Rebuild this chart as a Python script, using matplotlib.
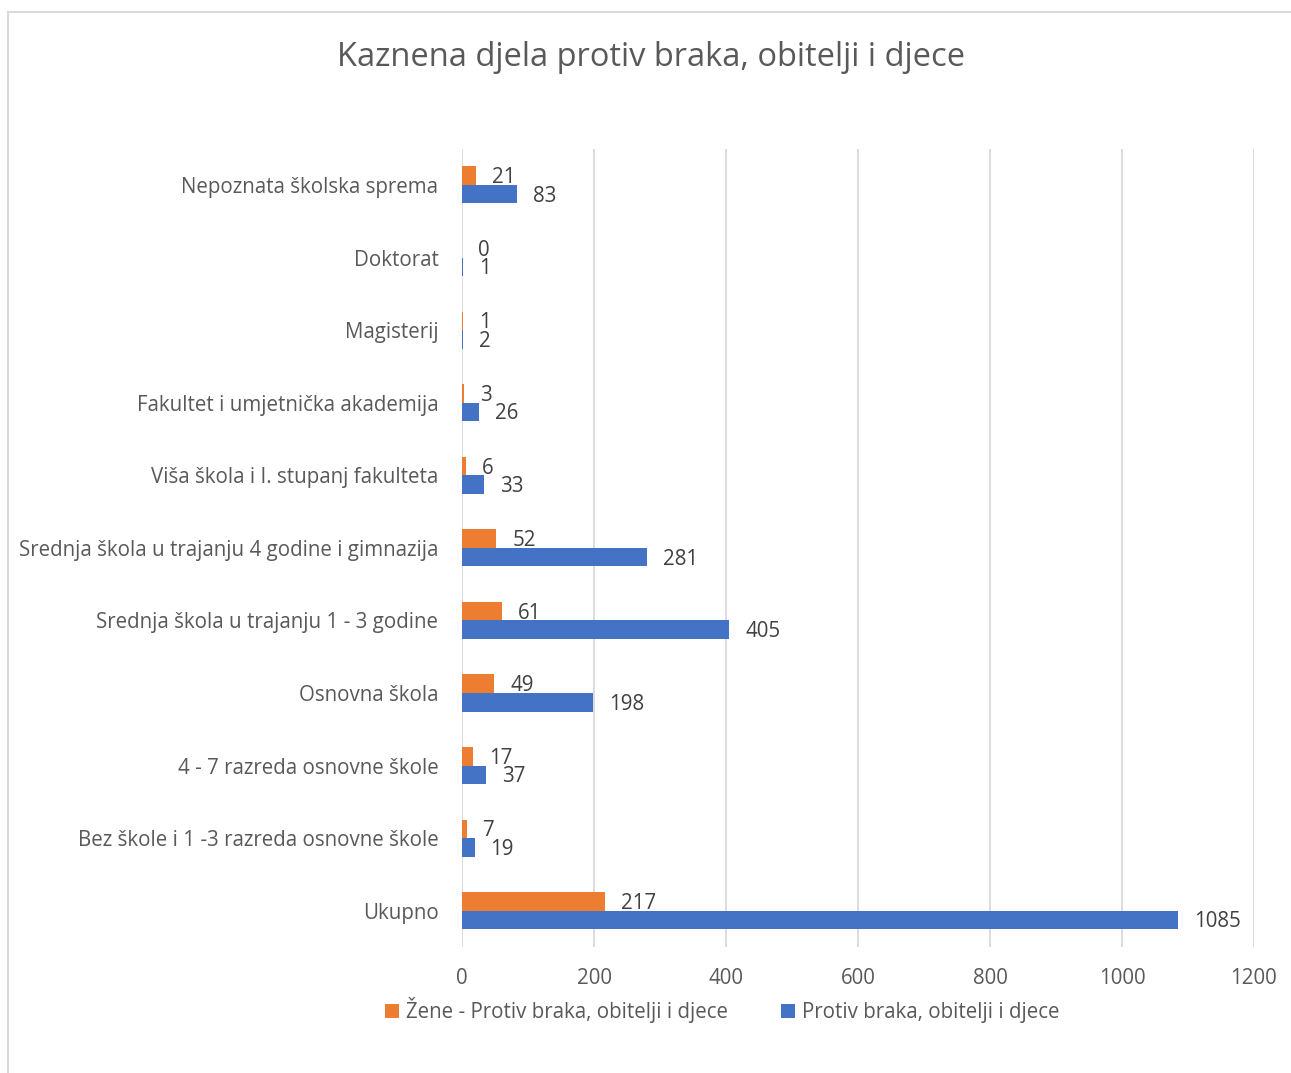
import matplotlib.pyplot as plt
from matplotlib.patches import Rectangle
import numpy as np

plt.rcParams['font.family'] = ['Open Sans', 'DejaVu Sans']

# categories from bottom to top, as in the chart
categories = [
    "Ukupno",
    "Bez škole i 1 -3 razreda osnovne škole",
    "4 - 7 razreda osnovne škole",
    "Osnovna škola",
    "Srednja škola u trajanju 1 - 3 godine",
    "Srednja škola u trajanju 4 godine i gimnazija",
    "Viša škola i I. stupanj fakulteta",
    "Fakultet i umjetnička akademija",
    "Magisterij",
    "Doktorat",
    "Nepoznata školska sprema",
]
zene = [217, 7, 17, 49, 61, 52, 6, 3, 1, 0, 21]
ukupno = [1085, 19, 37, 198, 405, 281, 33, 26, 2, 1, 83]

ORANGE = "#ed7d31"
BLUE = "#4472c4"
TXT = "#595959"
LBL = "#404040"
GRID = "#d9d9d9"
FS = 14.8

fig = plt.figure(figsize=(12.91, 10.73), dpi=100)
ax = fig.add_axes([462 / 1291, 1 - 947 / 1073, 792 / 1291, (947 - 148.7) / 1073])

y = np.arange(len(categories))
h = 0.255
b1 = ax.barh(y + h / 2, zene, height=h, color=ORANGE, label="Žene - Protiv braka, obitelji i djece")
b2 = ax.barh(y - h / 2, ukupno, height=h, color=BLUE, label="Protiv braka, obitelji i djece")

for bars, vals in ((b1, zene), (b2, ukupno)):
    for bar, v in zip(bars, vals):
        ax.annotate(str(v), (v, bar.get_y() + bar.get_height() / 2),
                    xytext=(16, -2), textcoords="offset pixels",
                    ha="left", va="center", fontsize=FS, color=LBL)

ax.set_xlim(0, 1200)
ax.set_ylim(-0.5, len(categories) - 0.5)
ax.set_xticks(range(0, 1201, 200))
ax.set_yticks(y)
ax.set_yticklabels(categories)
ax.tick_params(axis="y", length=0, pad=17, labelsize=FS, labelcolor=TXT)
ax.tick_params(axis="x", length=0, pad=15, labelsize=FS, labelcolor=TXT)
ax.grid(axis="x", color=GRID, lw=1.3)
ax.set_axisbelow(True)
for s in ax.spines.values():
    s.set_visible(False)

fig.text(651 / 1291, 1 - 58 / 1073, "Kaznena djela protiv braka, obitelji i djece",
         ha="center", va="center", fontsize=23.5, color=TXT)

fig.legend(loc="center", bbox_to_anchor=(722 / 1291, 1 - 1010 / 1073), ncol=2,
           frameon=False, handlelength=0.7, handleheight=0.7, handletextpad=0.3,
           columnspacing=2.6, fontsize=FS, labelcolor=TXT)

# outer chart border (only top and left visible)
fig.patches.append(Rectangle((8 / 1291, -0.1), 1.1, 1 - 12 / 1073 + 0.1,
                             transform=fig.transFigure, fill=False,
                             edgecolor=GRID, lw=1.5))

fig.savefig("out.png", dpi=100)
